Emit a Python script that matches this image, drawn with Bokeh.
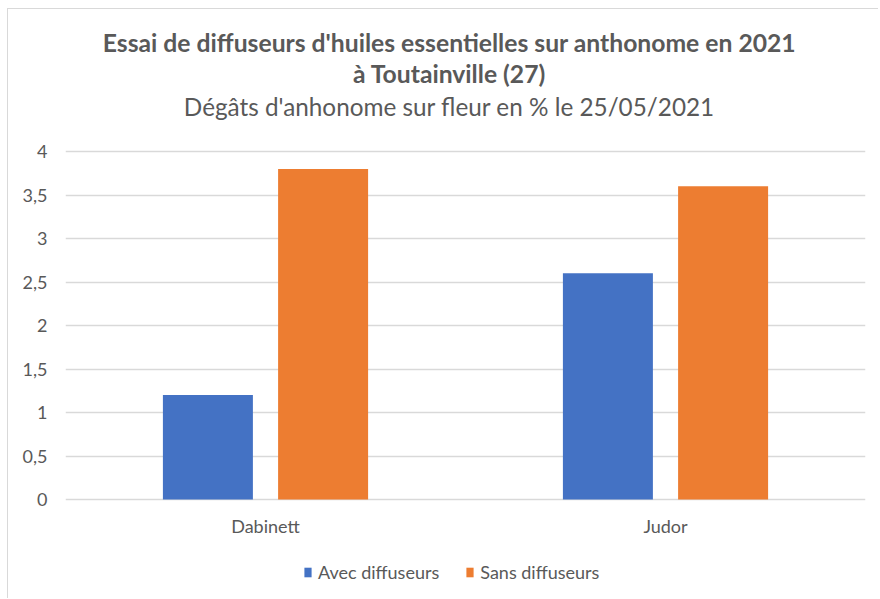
from bokeh.plotting import figure
from bokeh.core.properties import value
from bokeh.models import (FactorRange, Range1d, Label, LabelSet, Legend, LegendItem,
                          FixedTicker, ColumnDataSource)
from bokeh.transform import dodge
from bokeh.embed import file_html
from bokeh.resources import INLINE

# ---- data ----
varieties = ["Dabinett", "Judor"]
series_names = ["Avec diffuseurs", "Sans diffuseurs"]
avec = [1.2, 2.6]
sans = [3.8, 3.6]
y_ticks = [0, 0.5, 1, 1.5, 2, 2.5, 3, 3.5, 4]
y_tick_labels = ["0", "0,5", "1", "1,5", "2", "2,5", "3", "3,5", "4"]
title_line1 = "Essai de diffuseurs d'huiles essentielles sur anthonome en 2021"
title_line2 = "à Toutainville (27)"
subtitle = "Dégâts d'anhonome sur fleur en % le 25/05/2021"

FONT = "Lato"
TXT = "#595959"
BLUE = "#4472C4"
ORANGE = "#ED7D31"
GRID = "#D9D9D9"

# layout (pixels): frame spans the whole figure height; value axis 0..4 maps to 348 px
H = 590
PX_PER_UNIT = 87.0
BOTTOM_PAD = 100   # pixels below the zero line
y_start = -BOTTOM_PAD / PX_PER_UNIT
y_end = (H - BOTTOM_PAD) / PX_PER_UNIT

source = ColumnDataSource(dict(variety=varieties, avec=avec, sans=sans))

p = figure(
    x_range=FactorRange(*varieties), y_range=Range1d(y_start, y_end),
    width=871, height=H, output_backend="svg", toolbar_location=None,
    min_border_left=57, min_border_right=14, min_border_top=0, min_border_bottom=0,
)
p.styles = {"margin-left": "8px", "margin-top": "9px",
            "box-shadow": "-1px -1px 0px 0px #D9D9D9"}
p.outline_line_color = None
p.border_fill_color = "white"
p.xaxis.visible = False

r1 = p.vbar(x=dodge("variety", -0.144, range=p.x_range), top="avec", width=0.225,
            source=source, color=BLUE, line_color=None)
r2 = p.vbar(x=dodge("variety", 0.144, range=p.x_range), top="sans", width=0.225,
            source=source, color=ORANGE, line_color=None)

# value axis
p.yaxis.ticker = FixedTicker(ticks=y_ticks)
p.yaxis.major_label_overrides = {t: l for t, l in zip(y_ticks, y_tick_labels)}
p.yaxis.axis_line_color = None
p.yaxis.major_tick_line_color = None
p.yaxis.minor_tick_line_color = None
p.yaxis.major_tick_out = 0
p.yaxis.major_tick_in = 0
p.yaxis.minor_tick_out = 0
p.yaxis.major_label_text_font = FONT
p.yaxis.major_label_text_font_size = "18px"
p.yaxis.major_label_text_color = TXT
p.yaxis.major_label_standoff = 18

p.xgrid.grid_line_color = None
p.ygrid.grid_line_color = GRID
p.ygrid.grid_line_width = 1.5
p.ygrid.ticker = FixedTicker(ticks=y_ticks)

# category labels under the bars
p.add_layout(LabelSet(x="variety", y=0, y_offset=-33, text="variety", source=source,
                      text_align="center", text_baseline="alphabetic",
                      text_font=value(FONT), text_font_size=value("18px"),
                      text_color=TXT))

# titles (screen units relative to the frame, y measured up from its bottom)
for txt, ypos, size, style in [(title_line1, 557, "24.7px", "bold"),
                               (title_line2, 526, "24.7px", "bold"),
                               (subtitle, 493, "24.3px", "normal")]:
    p.add_layout(Label(x=384, y=ypos, x_units="screen", y_units="screen", text=txt,
                       text_align="center", text_baseline="alphabetic",
                       text_font=FONT, text_font_size=size, text_font_style=style,
                       text_color=TXT))

legend = Legend(items=[LegendItem(label=series_names[0], renderers=[r1]),
                       LegendItem(label=series_names[1], renderers=[r2])],
                orientation="horizontal", location=(238, 16),
                border_line_color=None, background_fill_alpha=0,
                label_text_font=FONT, label_text_font_size="18px", label_text_color=TXT,
                glyph_width=9, glyph_height=12, label_standoff=6, spacing=26,
                margin=0, padding=0)
p.add_layout(legend, "center")

open("out.html", "w").write(file_html(p, INLINE))
